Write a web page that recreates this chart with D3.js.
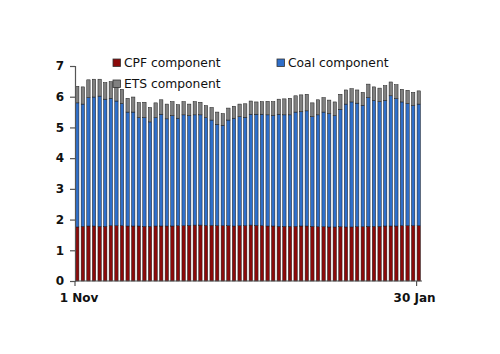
<!DOCTYPE html>
<html>
<head>
<meta charset="utf-8">
<script src="https://cdn.jsdelivr.net/npm/d3@7"></script>
<style>
  body { margin: 0; background: #fff; }
  svg { display: block; font-family: "DejaVu Sans", Verdana, sans-serif; }
</style>
</head>
<body>
<svg id="chart"></svg>
<script>
// trading days, 1 Nov to 30 Jan
var days = [
  "1 Nov","2 Nov","5 Nov","6 Nov","7 Nov","8 Nov","9 Nov","12 Nov","13 Nov","14 Nov",
  "15 Nov","16 Nov","19 Nov","20 Nov","21 Nov","22 Nov","23 Nov","26 Nov","27 Nov","28 Nov",
  "29 Nov","30 Nov","3 Dec","4 Dec","5 Dec","6 Dec","7 Dec","10 Dec","11 Dec","12 Dec",
  "13 Dec","14 Dec","17 Dec","18 Dec","19 Dec","20 Dec","21 Dec","24 Dec","27 Dec","28 Dec",
  "31 Dec","2 Jan","3 Jan","4 Jan","7 Jan","8 Jan","9 Jan","10 Jan","11 Jan","14 Jan",
  "15 Jan","16 Jan","17 Jan","18 Jan","21 Jan","22 Jan","23 Jan","24 Jan","25 Jan","28 Jan",
  "29 Jan","30 Jan"
];

var cpf = [
  1.76,1.78,1.79,1.79,1.78,1.78,1.80,1.80,1.80,1.79,
  1.79,1.79,1.78,1.78,1.79,1.79,1.79,1.79,1.80,1.80,
  1.81,1.82,1.82,1.81,1.81,1.80,1.80,1.80,1.79,1.80,
  1.80,1.82,1.81,1.80,1.79,1.79,1.78,1.78,1.78,1.78,
  1.79,1.79,1.78,1.77,1.77,1.76,1.76,1.77,1.76,1.76,
  1.77,1.77,1.78,1.78,1.78,1.79,1.79,1.79,1.80,1.80,
  1.80,1.80
];

// top of the coal segment (cpf + coal)
var coalTop = [
  5.80,5.76,5.97,5.99,6.02,5.92,5.95,5.86,5.78,5.50,
  5.50,5.32,5.32,5.18,5.32,5.43,5.28,5.38,5.30,5.41,
  5.38,5.41,5.41,5.32,5.24,5.10,5.07,5.24,5.30,5.35,
  5.33,5.43,5.43,5.43,5.41,5.39,5.43,5.41,5.41,5.50,
  5.51,5.54,5.35,5.41,5.50,5.45,5.38,5.59,5.76,5.83,
  5.79,5.72,5.97,5.88,5.84,5.88,6.03,5.94,5.83,5.78,
  5.71,5.76
];

// top of the whole bar
var total = [
  6.34,6.32,6.55,6.57,6.57,6.46,6.49,6.37,6.24,5.95,
  5.99,5.81,5.82,5.65,5.80,5.90,5.76,5.84,5.74,5.84,
  5.76,5.84,5.82,5.71,5.65,5.50,5.45,5.63,5.69,5.76,
  5.77,5.86,5.83,5.84,5.85,5.84,5.92,5.93,5.95,6.03,
  6.06,6.08,5.80,5.90,5.97,5.89,5.83,6.08,6.22,6.26,
  6.22,6.14,6.41,6.32,6.28,6.36,6.48,6.39,6.24,6.21,
  6.14,6.19
];

var seriesNames = ["CPF component", "Coal component", "ETS component"];
var colors = ["#8b0a0a", "#2f6fca", "#808080"];
var yTicks = [0, 1, 2, 3, 4, 5, 6, 7];
var xTickLabels = ["1 Nov", "30 Jan"];

var width = 500, height = 354;
var svg = d3.select("#chart")
    .attr("width", width)
    .attr("height", height);

var x = d3.scaleBand()
    .domain(days)
    .range([75, 421])
    .paddingInner(0.4)
    .paddingOuter(0.1);

var y = d3.scaleLinear()
    .domain([0, 7])
    .range([281, 66]);

// stacked segments: [bottom, top, colour index]
var rows = days.map(function(d, i) {
    return { day: d, segs: [[0, cpf[i], 0], [cpf[i], coalTop[i], 1], [coalTop[i], total[i], 2]] };
});

var bars = svg.append("g").selectAll("g")
    .data(rows)
    .enter().append("g");

bars.selectAll("rect")
    .data(function(r) { return r.segs.map(function(s) { return { day: r.day, s: s }; }); })
    .enter().append("rect")
    .attr("x", function(d) { return x(d.day); })
    .attr("width", x.bandwidth())
    .attr("y", function(d) { return y(d.s[1]); })
    .attr("height", function(d) { return y(d.s[0]) - y(d.s[1]); })
    .style("fill", function(d) { return colors[d.s[2]]; })
    .style("stroke", "#1a1a1a")
    .style("stroke-width", 0.5);

// y axis
var yAxis = svg.append("g")
    .attr("transform", "translate(75,0)")
    .call(d3.axisLeft(y).tickValues(yTicks).tickSize(5).tickPadding(6).tickFormat(d3.format("d")));

// x axis, ticks at the left edge of first and last bar
var xPos = function(d) { return x(d) - 0.5; };
var xAxis = svg.append("g").attr("class", "x-axis");
xAxis.append("line")
    .attr("x1", 75).attr("x2", 422)
    .attr("y1", 281).attr("y2", 281);
xAxis.selectAll(".tk")
    .data(xTickLabels)
    .enter().append("line")
    .attr("class", "tk")
    .attr("x1", function(d) { return d === "1 Nov" ? 75 : xPos(d); })
    .attr("x2", function(d) { return d === "1 Nov" ? 75 : xPos(d); })
    .attr("y1", 281).attr("y2", 286);
xAxis.selectAll("text")
    .data(xTickLabels)
    .enter().append("text")
    .attr("x", function(d) { return d === "1 Nov" ? 79 : xPos(d) - 2; })
    .attr("y", 302)
    .style("text-anchor", "middle")
    .style("font-size", "12px")
    .style("font-weight", "bold")
    .style("fill", "#111")
    .text(function(d) { return d; });

svg.selectAll(".domain, .tick line, .x-axis line")
    .style("stroke", "#555")
    .style("stroke-width", 1.2);
yAxis.selectAll("text")
    .style("font-size", "12px")
    .style("font-weight", "bold")
    .style("font-family", "DejaVu Sans")
    .style("fill", "#111");

// legend
var legendPos = [[113, 59], [277, 59], [113, 80]];
var legend = svg.selectAll(".legend")
    .data(seriesNames)
    .enter().append("g")
    .attr("class", "legend")
    .attr("transform", function(d, i) { return "translate(" + legendPos[i][0] + "," + legendPos[i][1] + ")"; });

legend.append("rect")
    .attr("width", 7.5)
    .attr("height", 7.5)
    .style("fill", function(d, i) { return colors[i]; })
    .style("stroke", "#333")
    .style("stroke-width", 0.8);

legend.append("text")
    .attr("x", 11)
    .attr("y", 8)
    .style("font-size", "12.3px")
    .style("fill", "#111")
    .text(function(d) { return d; });
</script>
</body>
</html>
